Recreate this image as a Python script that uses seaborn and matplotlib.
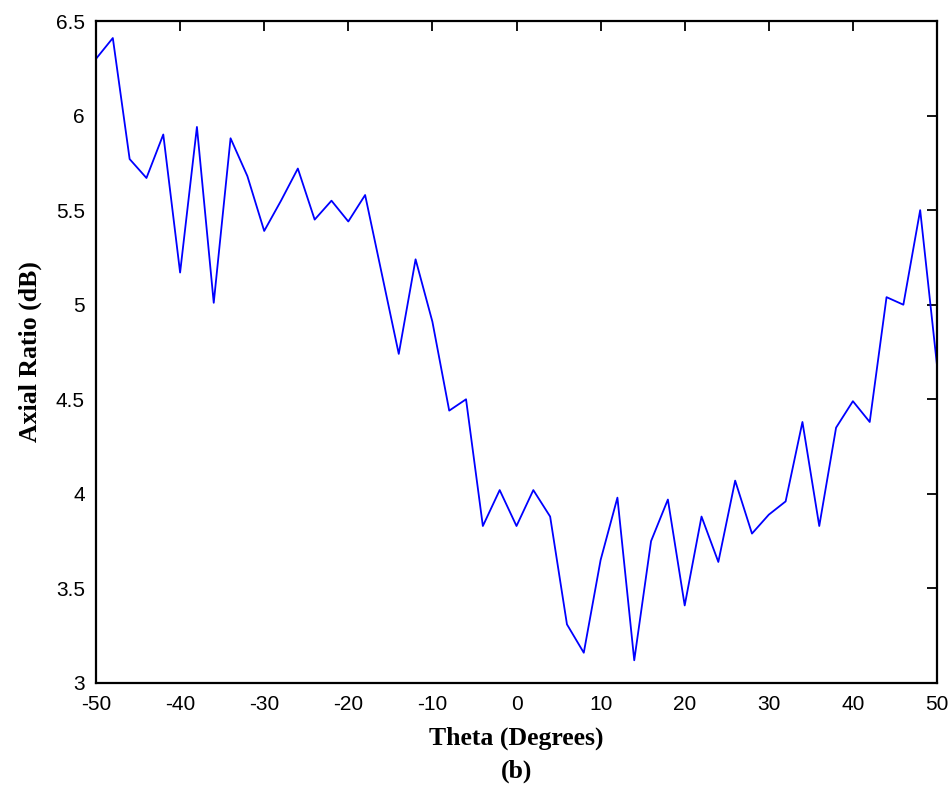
import matplotlib
matplotlib.use("Agg")
import matplotlib.pyplot as plt
import seaborn as sns
import numpy as np
import pandas as pd

theta = list(range(-50, 52, 2))
axial_ratio = [6.30, 6.41, 5.77, 5.67, 5.90, 5.17, 5.94, 5.01, 5.88, 5.68,
               5.39, 5.55, 5.72, 5.45, 5.55, 5.44, 5.58, 5.16, 4.74, 5.24,
               4.91, 4.44, 4.50, 3.83, 4.02, 3.83, 4.02, 3.88, 3.31, 3.16,
               3.65, 3.98, 3.12, 3.75, 3.97, 3.41, 3.88, 3.64, 4.07, 3.79,
               3.89, 3.96, 4.38, 3.83, 4.35, 4.49, 4.38, 5.04, 5.00, 5.50,
               4.68]
x_ticks = list(range(-50, 60, 10))
y_ticks = [3, 3.5, 4, 4.5, 5, 5.5, 6, 6.5]
y_tick_labels = ["3", "3.5", "4", "4.5", "5", "5.5", "6", "6.5"]

df = pd.DataFrame({"Theta": theta, "AR": axial_ratio})

sns.set_style("white")
plt.rcParams["text.color"] = "black"
fig = plt.figure(figsize=(9.52, 7.91), dpi=100)
ax = fig.add_axes([96/952, 1-683/791, (937-96)/952, (683-21)/791])

sns.lineplot(data=df, x="Theta", y="AR", ax=ax, color="#0000ff", linewidth=1.3)

ax.set_xlim(-50, 50)
ax.set_ylim(3, 6.5)
ax.set_xticks(x_ticks)
ax.set_xticklabels([str(t) for t in x_ticks])
ax.set_yticks(y_ticks)
ax.set_yticklabels(y_tick_labels)
ax.tick_params(direction="in", length=7, width=1.3, top=True, right=True,
               labelsize=15, colors="black")
ax.tick_params(axis="x", pad=9)
ax.tick_params(axis="y", pad=8)
for lab in ax.get_xticklabels() + ax.get_yticklabels():
    lab.set_family("Liberation Sans")
    lab.set_color("black")
for s in ax.spines.values():
    s.set_visible(True)
    s.set_color("black")
    s.set_linewidth(1.6)

ax.set_xlabel("Theta (Degrees)", fontfamily="Liberation Serif", fontweight="bold",
              fontsize=18.5, labelpad=9, color="black")
ax.set_ylabel("Axial Ratio (dB)", fontfamily="Liberation Serif", fontweight="bold",
              fontsize=18.5, labelpad=10, color="black")
fig.text(517/952, 1-771/791, "(b)", ha="center", va="center",
         fontfamily="Liberation Serif", fontweight="bold", fontsize=18.5, color="black")

fig.savefig("out.png", dpi=100)
